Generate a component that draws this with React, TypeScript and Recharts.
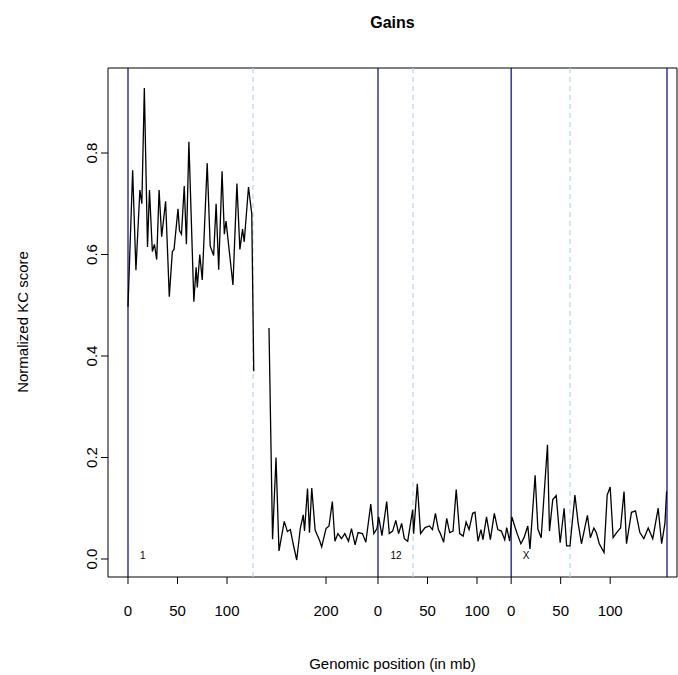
import { LineChart, Line, XAxis, YAxis, ReferenceLine, ReferenceArea, ReferenceDot } from "recharts";

// chromosome 1 (mb, score); null marks the gap around the centromere
const chr1Pos = [0, 4.7, 8, 12, 14, 16.5, 19.7, 21.7, 24.6, 26.7, 29, 31.4, 34, 38, 41.7, 44.8, 46.5, 50.5, 52, 54, 56.8, 59, 61.5, 66.5, 68.8, 70, 72.5, 75, 80, 83, 86.5, 89, 91.6, 95, 97.3, 99, 106, 110, 113, 115.7, 117.4, 121.7, 125, 127, 134, 142.4, 146, 149.5, 152.5, 157.8, 161, 164, 166.8, 170.4, 174, 177, 178.3, 181.3, 183.3, 185.6, 189, 193.6, 195.6, 200, 203, 206.4, 209, 212, 215.6, 219, 222.7, 225.7, 229.4, 232.4, 236.8, 240.2, 245.2, 248.3, 251.5];
const chr1Val = [0.497, 0.766, 0.569, 0.727, 0.7, 0.928, 0.615, 0.727, 0.606, 0.62, 0.59, 0.727, 0.635, 0.705, 0.517, 0.606, 0.61, 0.69, 0.647, 0.64, 0.735, 0.62, 0.822, 0.507, 0.575, 0.535, 0.6, 0.55, 0.78, 0.617, 0.598, 0.7, 0.57, 0.764, 0.64, 0.666, 0.54, 0.74, 0.61, 0.65, 0.625, 0.733, 0.68, 0.37, null, 0.455, 0.039, 0.2, 0.016, 0.074, 0.054, 0.058, 0.03, -0.002, 0.06, 0.087, 0.055, 0.139, 0.052, 0.14, 0.057, 0.036, 0.024, 0.06, 0.065, 0.113, 0.035, 0.05, 0.04, 0.05, 0.035, 0.06, 0.028, 0.052, 0.05, 0.033, 0.108, 0.05, 0.06];
const chr12Pos = [0.7, 4, 8.8, 11.4, 14.8, 18, 20.8, 23.9, 26.6, 30, 35, 36, 39.7, 43, 47.5, 52, 55, 58, 61, 63, 66.3, 69.4, 72.4, 75.8, 79, 82.5, 86, 89, 92, 95.6, 98, 101, 104, 106, 109.6, 113.5, 117.5, 121, 124.6, 128, 130, 133];
const chr12Val = [0.083, 0.046, 0.113, 0.05, 0.055, 0.076, 0.05, 0.07, 0.04, 0.035, 0.097, 0.05, 0.148, 0.05, 0.062, 0.065, 0.058, 0.09, 0.058, 0.05, 0.033, 0.08, 0.052, 0.055, 0.137, 0.05, 0.045, 0.073, 0.058, 0.09, 0.092, 0.035, 0.058, 0.038, 0.083, 0.038, 0.09, 0.058, 0.055, 0.038, 0.062, 0.035];
const chrXPos = [0.7, 4, 6.4, 9.8, 13, 16.8, 19, 24.2, 27, 30.3, 36.7, 38.7, 42, 45.5, 49.5, 53.5, 56, 59.4, 64.4, 67.7, 71, 77, 80, 83.5, 86, 89, 93.8, 97, 100, 103, 106.5, 110.5, 114, 116.5, 121.5, 125.6, 130, 134, 138.4, 143, 148.5, 152, 155.3, 157];
const chrXVal = [0.083, 0.062, 0.048, 0.03, 0.042, 0.065, 0.02, 0.165, 0.059, 0.042, 0.225, 0.055, 0.117, 0.125, 0.032, 0.1, 0.026, 0.026, 0.126, 0.07, 0.03, 0.086, 0.042, 0.061, 0.052, 0.03, 0.013, 0.126, 0.142, 0.042, 0.052, 0.061, 0.133, 0.03, 0.092, 0.095, 0.052, 0.04, 0.061, 0.04, 0.1, 0.03, 0.07, 0.133];

// genome offsets (mb) of chromosome starts/ends, centromeres
const chromStarts = [0, 252.5, 387, 544.4];
const centromeres = [126.3, 287.9, 446.5];
const chromLabels = [
  { name: "1", x: 15 },
  { name: "12", x: 270.7 },
  { name: "X", x: 402 },
];
const tickValues = [0, 50, 100, 200, 252.5, 302.5, 352.5, 387, 437, 487];
const tickLabels = ["0", "50", "100", "200", "0", "50", "100", "0", "50", "100"];
const yTicks = [0, 0.2, 0.4, 0.6, 0.8];

const data = [
  ...chr1Pos.map((p, i) => ({ x: p, v: chr1Val[i] })),
  ...chr12Pos.map((p, i) => ({ x: chromStarts[1] + p, v: chr12Val[i] })),
  ...chrXPos.map((p, i) => ({ x: chromStarts[2] + p, v: chrXVal[i] })),
];

const xMin = -20.2;
const xMax = 554.5;
const yMin = -0.0355;
const yMax = 0.9675;
const font = "'Liberation Sans', Arial, sans-serif";

const YTick = (props: any) => {
  const { y, payload } = props;
  return (
    <text x={97} y={y} transform={`rotate(-90 97 ${y})`} textAnchor="middle" fontSize={15} fill="#000" fontFamily={font}>
      {payload.value.toFixed(1)}
    </text>
  );
};

export default function App() {
  return (
    <div style={{ position: "absolute", left: 0, top: 0, width: 678, height: 675, background: "#fff", fontFamily: font }}>
      <div style={{ position: "absolute", left: 108, width: 569, top: 14, textAlign: "center", fontWeight: "bold", fontSize: 16 }}>Gains</div>
      <div style={{ position: "absolute", left: 108, width: 569, top: 655, textAlign: "center", fontSize: 15 }}>Genomic position (in mb)</div>
      <div style={{ position: "absolute", left: 22, top: 322, transform: "translate(-50%,-50%) rotate(-90deg)", whiteSpace: "nowrap", fontSize: 15 }}>Normalized KC score</div>
      <LineChart width={678} height={675} data={data} margin={{ top: 68, right: 1, bottom: 58, left: 78 }}>
        <XAxis
          dataKey="x"
          type="number"
          domain={[xMin, xMax]}
          ticks={tickValues}
          tickFormatter={(v: number) => tickLabels[tickValues.indexOf(v)]}
          axisLine={false}
          tickSize={7}
          tickMargin={21}
          height={40}
          interval={0}
          allowDataOverflow
          tick={{ fontSize: 15, fill: "#000", fontFamily: font }}
          tickLine={{ stroke: "#000" }}
        />
        <YAxis
          type="number"
          domain={[yMin, yMax]}
          ticks={yTicks}
          width={30}
          axisLine={false}
          tickSize={7}
          tick={<YTick />}
          tickLine={{ stroke: "#000" }}
          allowDataOverflow
        />
        {centromeres.map((c) => (
          <ReferenceLine key={c} x={c} stroke="#add8e6" strokeDasharray="5 4" strokeWidth={1.2} />
        ))}
        {chromStarts.map((c) => (
          <ReferenceLine key={c} x={c} stroke="#00008b" strokeWidth={1.2} />
        ))}
        {chromLabels.map((l) => (
          <ReferenceDot
            key={l.name}
            x={l.x}
            y={0.006}
            r={0}
            label={{ value: l.name, position: "center", fontSize: 10, fill: "#000", fontFamily: font }}
          />
        ))}
        <Line type="linear" dataKey="v" stroke="#000" strokeWidth={1.3} dot={false} connectNulls={false} isAnimationActive={false} />
        <ReferenceArea x1={xMin} x2={xMax} y1={yMin} y2={yMax} fill="none" stroke="#000" strokeWidth={1} />
      </LineChart>
    </div>
  );
}
